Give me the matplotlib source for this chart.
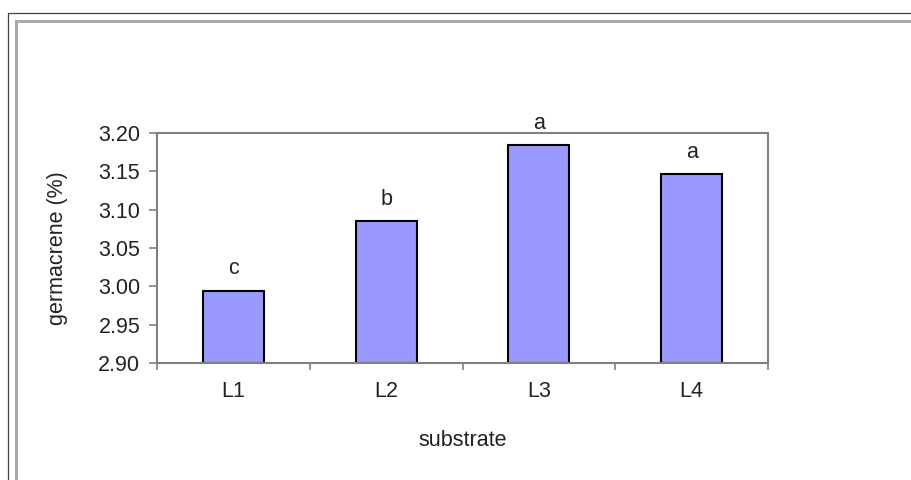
import matplotlib.pyplot as plt
from matplotlib.patches import Rectangle

substrates = ['L1', 'L2', 'L3', 'L4']
germacrene = [2.994, 3.085, 3.184, 3.146]
letters = ['c', 'b', 'a', 'a']
yticks = [2.90, 2.95, 3.00, 3.05, 3.10, 3.15, 3.20]

plt.rcParams['font.family'] = ['Liberation Sans', 'DejaVu Sans']
axis_gray = '#808080'
txt = '#222222'
fs = 15.5

fig = plt.figure(figsize=(9.11, 4.8), dpi=100)

# outer frame lines (run off the right and bottom edges)
W, H = 911, 480
fig.patches.append(Rectangle((7.5 / W, -0.1), 1.2, (H - 13.5) / H + 0.1,
                             transform=fig.transFigure, fill=False,
                             edgecolor='#404040', linewidth=0.9))
fig.patches.append(Rectangle((16 / W, -0.1), 1.2, (H - 21) / H + 0.1,
                             transform=fig.transFigure, fill=False,
                             edgecolor='#a8a8a8', linewidth=2.2))

ax = fig.add_axes([157 / W, 1 - 363 / H, (768 - 157) / W, (363 - 133) / H])
x = range(len(substrates))
ax.bar(x, [v - 2.90 for v in germacrene], bottom=2.90, width=0.4,
       color='#9999ff', edgecolor='black', linewidth=1.5)
for i, (v, t) in enumerate(zip(germacrene, letters)):
    ax.text(i, v + 0.015, t, ha='center', va='bottom', fontsize=fs, color=txt)

ax.set_xlim(-0.5, len(substrates) - 0.5)
ax.set_ylim(2.90, 3.20)
ax.set_yticks(yticks)
ax.set_yticklabels(['%.2f' % t for t in yticks])
ax.set_xticks(x)
ax.set_xticklabels(substrates)
ax.set_xticks([i + 0.5 for i in range(-1, len(substrates))], minor=True)
ax.tick_params(axis='x', which='major', length=0, pad=13, labelsize=fs, labelcolor=txt)
ax.tick_params(axis='x', which='minor', length=5, color=axis_gray, width=1.2, direction='out')
ax.tick_params(axis='y', length=6, color=axis_gray, width=1.2, labelsize=fs,
               labelcolor=txt, pad=6)
for s in ax.spines.values():
    s.set_color(axis_gray)
    s.set_linewidth(1.5)

ax.set_ylabel('germacrene (%)', fontsize=fs, color=txt)
ax.set_xlabel('substrate', fontsize=fs, color=txt)
ax.yaxis.set_label_coords(-0.146, 0.5)
ax.xaxis.set_label_coords(0.5, -0.29)

fig.savefig('out.png', dpi=100)
